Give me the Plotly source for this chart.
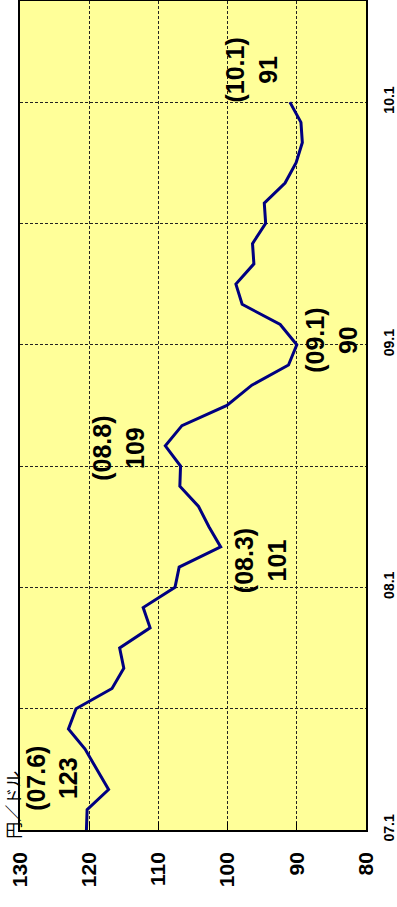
import plotly.graph_objects as go

# Monthly yen/dollar rate, Jan 2007 - Jan 2010
months = [
    "07.1", "07.2", "07.3", "07.4", "07.5", "07.6", "07.7", "07.8", "07.9", "07.10", "07.11", "07.12",
    "08.1", "08.2", "08.3", "08.4", "08.5", "08.6", "08.7", "08.8", "08.9", "08.10", "08.11", "08.12",
    "09.1", "09.2", "09.3", "09.4", "09.5", "09.6", "09.7", "09.8", "09.9", "09.10", "09.11", "09.12",
    "10.1",
]
rates = [
    120.4, 120.3, 117.2, 118.9, 120.6, 123, 121.9, 116.7, 115.0, 115.6, 111.2, 112.2,
    107.6, 107.0, 101, 102.7, 104.2, 106.9, 106.8, 109, 106.6, 100.1, 96.5, 91.2,
    90, 92.4, 97.9, 98.8, 96.2, 96.4, 94.5, 94.7, 91.7, 90.1, 89.2, 89.4,
    91,
]

# Rate axis (drawn horizontally, reversed)
rate_ticks = [130, 120, 110, 100, 90, 80]
# Time axis grid every half year, labels each January
time_grid = [0, 6, 12, 18, 24, 30, 36]
time_labels = ["07.1", "", "08.1", "", "09.1", "", "10.1"]

# Callouts: (month, label x-position in yen, label y-offset in months)
callouts = [
    ("07.6", 125.4, -2.43),
    ("08.3", 95.3, -0.7),
    ("08.8", 115.7, -0.1),
    ("09.1", 84.9, 0.2),
    ("10.1", 96.5, 1.6),
]

idx = list(range(len(months)))

fig = go.Figure()
fig.add_trace(go.Scatter(
    x=rates, y=idx, mode="lines",
    line=dict(color="#000080", width=3),
    hoverinfo="skip", showlegend=False,
))

annotations = []
for m, xpos, dy in callouts:
    i = months.index(m)
    v = rates[i]
    annotations.append(dict(
        x=xpos, y=i + dy, xref="x", yref="y",
        text=f"({m})<br>{v:g}", showarrow=False, textangle=-90,
        xanchor="center", yanchor="middle", align="center",
        font=dict(family="Liberation Sans", size=25, color="black", weight="bold"),
    ))

annotations.append(dict(
    x=-0.024, y=0.03, xref="paper", yref="paper",
    text="円／ドル", showarrow=False, textangle=-90,
    xanchor="center", yanchor="middle",
    font=dict(family="Noto Sans CJK JP", size=17, color="black"),
))

fig.update_layout(
    width=397, height=907,
    margin=dict(l=20, r=31, t=1, b=77),
    paper_bgcolor="white",
    plot_bgcolor="#FFFF99",
    annotations=annotations,
    xaxis=dict(
        range=[130, 80], tickvals=rate_ticks, tickangle=-90,
        tickfont=dict(family="Liberation Sans", size=21, color="black", weight="bold"),
        ticks="inside", ticklen=8, tickcolor="black",
        showline=True, linecolor="black", linewidth=1.5, mirror=True,
        showgrid=True, gridcolor="#222222", gridwidth=1, griddash="3px,2px",
        zeroline=False, ticklabelstandoff=12, automargin=False,
    ),
    yaxis=dict(
        range=[0, 41], tickvals=time_grid, ticktext=time_labels, tickangle=-90,
        side="right",
        tickfont=dict(family="Liberation Sans", size=14, color="black", weight="bold"),
        ticks="", showline=True, linecolor="black", linewidth=1.5, mirror=True,
        showgrid=True, gridcolor="#222222", gridwidth=1, griddash="3px,2px",
        zeroline=False, ticklabelstandoff=9, automargin=False,
    ),
)

fig.write_html("out.html")
